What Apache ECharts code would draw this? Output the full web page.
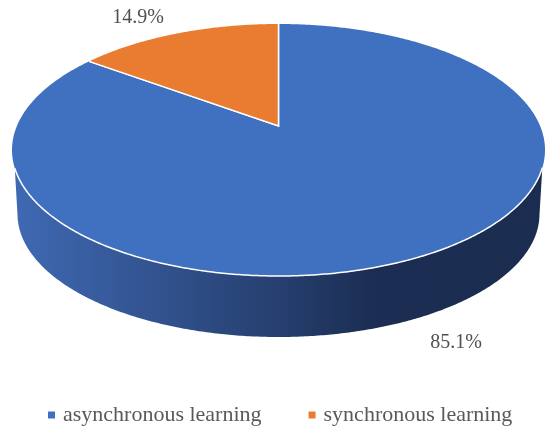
<!DOCTYPE html>
<html>
<head>
<meta charset="utf-8">
<style>
  html, body { margin: 0; padding: 0; background: #fff; }
  #chart { width: 550px; height: 432px; }
</style>
<script src="https://cdn.jsdelivr.net/npm/echarts@6/dist/echarts.min.js"></script>
</head>
<body>
<div id="chart"></div>
<script>
const categories = ['asynchronous learning', 'synchronous learning'];
const shares = [85.1, 14.9];
const shareLabels = ['85.1%', '14.9%'];
const colors = ['#4070c0', '#e97c30'];

// the picture is a perspective pie: the pie centre sits above the ellipse centre
const top_ = { cx: 278.5, cy: 150, rx: 266.5, ry: 126 };
const bottom_ = { cx: 278.5, cy: 214, rx: 261, ry: 123 };
const tilt = 0.19;
const rimCut = 0.14; // the front wall starts a bit under the widest point
const labelAt = [[456, 343], [138, 18]];
const fontFamily = '"Liberation Serif", serif';

const total = shares.reduce((a, b) => a + b, 0);

// angle is clockwise from 12 o'clock, result in unit ellipse coordinates (v is up)
function project(angle) {
  const u = Math.sin(angle);
  const v = Math.cos(angle);
  const d = 1 + tilt * v;
  return [u * Math.sqrt(1 - tilt * tilt) / d, (v + tilt) / d];
}

function onEllipse(e, p) {
  return [e.cx + e.rx * p[0], e.cy - e.ry * p[1]];
}

function sampleAngles(from, to) {
  const n = Math.ceil((to - from) * 120);
  const out = [];
  for (let i = 0; i <= n; i++) out.push(from + (to - from) * i / n);
  return out;
}

function renderSlice(index) {
  return function (params, api) {
    const value = api.value(0);
    let before = 0;
    for (let i = 0; i < index; i++) before += shares[i];
    const from = before / total * Math.PI * 2;
    const to = (before + value) / total * Math.PI * 2;

    const rim = sampleAngles(from, to).map(project);
    const apex = onEllipse(top_, [0, tilt]);
    const face = [apex].concat(rim.map(p => onEllipse(top_, p)));
    const front = rim.filter(p => p[1] <= -rimCut);
    const children = [];

    if (front.length > 1) {
      const lower = rim.filter(p => p[1] <= 0).map(p => onEllipse(bottom_, p)).reverse();
      children.push({
        type: 'polygon',
        shape: { points: front.map(p => onEllipse(top_, p)).concat(lower) },
        style: {
          fill: {
            type: 'linear', x: 0, y: 0, x2: 1, y2: 0,
            colorStops: [
              { offset: 0, color: '#3f69b3' },
              { offset: 0.5, color: '#263f6f' },
              { offset: 0.68, color: '#1b2d52' },
              { offset: 1, color: '#1a2c50' }
            ]
          }
        }
      });
    }
    children.push({
      type: 'polygon',
      shape: { points: face },
      style: { fill: colors[index] }
    });
    children.push({
      type: 'polyline',
      shape: { points: [face[1], apex, face[face.length - 1]] },
      style: { fill: null, stroke: '#fff', lineWidth: 1.5 }
    });
    if (front.length > 1) {
      children.push({
        type: 'polyline',
        shape: { points: front.map(p => onEllipse(top_, p)) },
        style: { fill: null, stroke: '#fff', lineWidth: 1.5 }
      });
    }
    children.push({
      type: 'text',
      style: {
        x: labelAt[index][0],
        y: labelAt[index][1],
        text: shareLabels[index],
        fill: '#505050',
        font: '20px ' + fontFamily,
        align: 'center',
        verticalAlign: 'middle'
      }
    });
    return { type: 'group', children: children };
  };
}

const myChart = echarts.init(document.getElementById('chart'), null, { renderer: 'canvas' });

myChart.setOption({
  animation: false,
  backgroundColor: '#fff',
  color: colors,
  legend: {
    left: 48,
    top: 404,
    icon: 'rect',
    itemWidth: 7,
    itemHeight: 7,
    itemGap: 47,
    padding: 0,
    data: categories,
    textStyle: {
      color: '#595959',
      fontSize: 22,
      fontFamily: fontFamily,
      padding: [0, 0, 0, 3]
    }
  },
  series: categories.map((name, i) => ({
    type: 'custom',
    name: name,
    coordinateSystem: 'none',
    silent: true,
    itemStyle: { color: colors[i] },
    renderItem: renderSlice(i),
    data: [[shares[i]]]
  }))
});
</script>
</body>
</html>
